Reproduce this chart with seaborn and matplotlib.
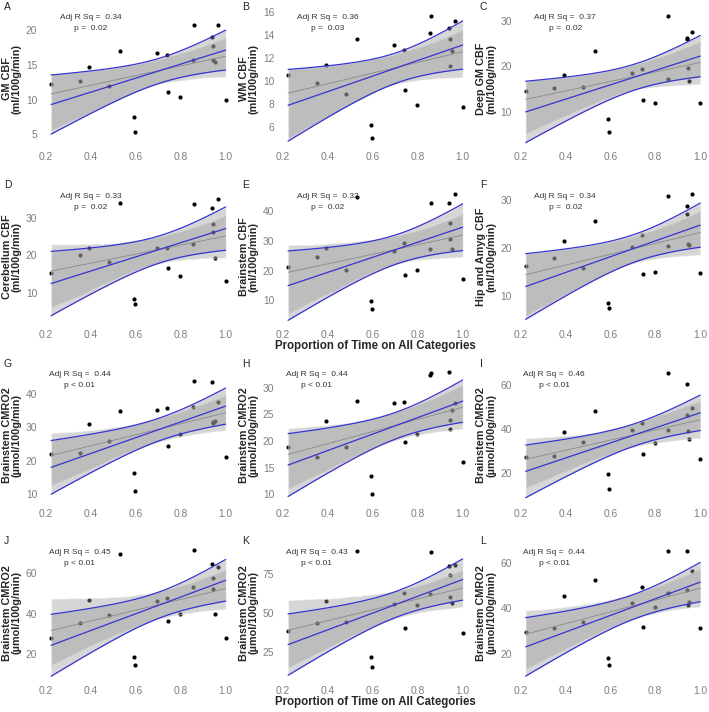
import numpy as np
import pandas as pd
import matplotlib
matplotlib.use('Agg')
import matplotlib.pyplot as plt
import seaborn as sns

# shared x: proportion of time on all categories (19 subjects)
prop_time = [0.224, 0.352, 0.393, 0.48, 0.53, 0.591, 0.596, 0.697, 0.739, 0.744,
             0.798, 0.858, 0.856, 0.941, 0.942, 0.944, 0.951, 0.964, 1.0]

gm_cbf = [12.2, 12.7, 14.7, 11.9, 17.0, 7.5, 5.3, 16.7, 16.5, 11.1, 10.3, 20.8, 15.7, 19.1, 17.8, 15.7, 15.4, 20.8, 9.9]
wm_cbf = [10.5, 9.8, 11.4, 8.9, 13.6, 6.2, 5.0, 13.1, 12.7, 9.2, 7.9, 15.6, 14.2, 14.6, 13.6, 11.3, 12.6, 15.2, 7.7]
deep_gm_cbf = [14.7, 15.3, 18.1, 15.6, 23.3, 8.5, 5.8, 18.5, 19.5, 12.7, 12.1, 31.0, 17.2, 26.3, 25.9, 19.6, 16.8, 27.5, 12.1]
cerebellum_cbf = [15.5, 20.1, 22.1, 18.4, 33.9, 8.6, 7.3, 22.1, 22.1, 16.8, 14.7, 33.6, 23.0, 32.6, 28.4, 26.3, 19.4, 34.9, 13.3]
brainstem_cbf = [21.3, 24.8, 27.8, 20.4, 44.8, 9.8, 7.2, 26.7, 29.3, 18.7, 20.4, 43.0, 27.3, 42.7, 36.0, 30.7, 27.4, 45.8, 17.3]
hip_amyg_cbf = [16.3, 17.9, 21.5, 15.8, 25.6, 8.4, 7.3, 20.1, 22.7, 14.5, 14.9, 30.9, 20.4, 28.8, 27.2, 20.9, 20.7, 31.3, 14.8]
cmro2_g = [22.1, 22.3, 31.1, 25.9, 34.8, 16.4, 10.9, 35.1, 35.8, 24.3, 28.1, 43.9, 36.0, 43.4, 31.2, 31.7, 31.9, 37.5, 21.1]
cmro2_h = [18.9, 17.0, 23.8, 18.9, 27.5, 13.5, 10.1, 27.2, 27.4, 19.9, 21.4, 32.7, 32.4, 32.9, 24.0, 22.3, 25.9, 27.2, 16.1]
cmro2_i = [27.1, 27.4, 38.7, 33.9, 48.0, 19.3, 12.5, 39.3, 42.6, 28.3, 33.5, 65.6, 39.6, 60.6, 46.2, 39.0, 35.3, 49.7, 26.2]
cmro2_j = [27.9, 35.4, 46.6, 39.5, 69.3, 18.7, 14.6, 46.1, 47.9, 36.3, 39.7, 71.1, 52.9, 64.5, 57.7, 51.9, 39.9, 62.9, 27.9]
cmro2_k = [38.6, 43.7, 57.7, 44.1, 89.9, 21.8, 15.5, 55.5, 63.0, 40.5, 55.0, 89.2, 62.0, 80.2, 74.4, 60.1, 56.3, 80.9, 37.0]
cmro2_l = [29.6, 31.4, 45.5, 33.9, 52.4, 18.3, 14.9, 42.2, 49.3, 31.6, 40.7, 65.5, 46.8, 65.3, 48.3, 41.4, 42.9, 56.5, 31.3]

panel_values = [gm_cbf, wm_cbf, deep_gm_cbf, cerebellum_cbf, brainstem_cbf, hip_amyg_cbf,
                cmro2_g, cmro2_h, cmro2_i, cmro2_j, cmro2_k, cmro2_l]
panel_letters = list('ABCDEFGHIJKL')
ylabels = ['GM CBF\n(ml/100g/min)', 'WM CBF\n(ml/100g/min)', 'Deep GM CBF\n(ml/100g/min)',
           'Cerebellum CBF\n(ml/100g/min)', 'Brainstem CBF\n(ml/100g/min)', 'Hip and Amyg CBF\n(ml/100g/min)'] \
          + ['Brainstem CMRO2\n(µmol/100g/min)'] * 6
adj_r2 = ['0.34', '0.36', '0.37', '0.33', '0.32', '0.34', '0.44', '0.44', '0.46', '0.45', '0.43', '0.44']
p_text = ['p =  0.02', 'p =  0.03', 'p =  0.02', 'p =  0.02', 'p =  0.02', 'p =  0.02'] + ['p < 0.01'] * 6

# adjusted-model fit (blue): value at x min, value at x max, CI half-width at x min
blue_left = [9.27, 7.88, 10.08, 12.6, 15.0, 11.9, 18.05, 15.5, 20.6, 24.5, 29.8, 23.0]
blue_right = [17.15, 13.12, 22.26, 27.1, 34.7, 24.8, 36.3, 27.5, 47.3, 56.4, 71.4, 51.6]
blue_halfwidth = [4.28, 3.12, 6.7, 8.5, 11.7, 6.9, 8.0, 5.9, 12.0, 15.2, 19.6, 12.9]

y_limits = [(3.05, 23.0), (4.2, 16.2), (2.3, 32.4), (1.4, 37.8), (1.4, 47.9), (3.6, 32.6),
            (7.0, 48.1), (8.1, 34.0), (5.5, 68.4), (6.5, 74.2), (5.9, 94.1), (7.5, 68.4)]
y_ticks = [[5, 10, 15, 20], [6, 8, 10, 12, 14, 16], [10, 20, 30], [10, 20, 30], [10, 20, 30, 40],
           [10, 20, 30], [10, 20, 30, 40], [10, 15, 20, 25, 30], [20, 40, 60], [20, 40, 60],
           [25, 50, 75], [20, 40, 60]]
x_ticks = [0.2, 0.4, 0.6, 0.8, 1.0]
ann_x = [0.4] * 6 + [0.35] * 6

sns.set_style('white')
plt.rcParams['font.family'] = ['Liberation Sans', 'DejaVu Sans']

W, H = 709, 712
fig = plt.figure(figsize=(W / 100, H / 100), dpi=100)
col_left = [41.4, 278.4, 516]
row_top = [9.6, 188, 366.5, 544]
ax_w, ax_h = 193, 138
letter_x = [4, 242, 480]

x_arr = np.array(prop_time)
n = len(x_arr)
xbar = x_arr.mean()
sxx = ((x_arr - xbar) ** 2).sum()
grid = np.linspace(x_arr.min(), x_arr.max(), 100)
shape = np.sqrt(1 / n + (grid - xbar) ** 2 / sxx)

band_color = '#999999'
blue = '#3535d0'

for i, vals in enumerate(panel_values):
    r, c = divmod(i, 3)
    left, top = col_left[c], row_top[r]
    ax = fig.add_axes([left / W, 1 - (top + ax_h) / H, ax_w / W, ax_h / H])
    df = pd.DataFrame({'prop': prop_time, 'val': vals})

    # unadjusted fit, grey
    sns.regplot(data=df, x='prop', y='val', ax=ax, ci=95, n_boot=2000, seed=1,
                color=band_color, truncate=True,
                scatter_kws={'color': 'black', 's': 9, 'linewidths': 0, 'alpha': 1, 'zorder': 1},
                line_kws={'color': '#8a8a8a', 'lw': 0.6, 'zorder': 3})
    for coll in ax.collections[1:]:
        coll.set_facecolor(band_color)
        coll.set_alpha(0.4)
        coll.set_zorder(2)

    # adjusted fit, blue with its CI
    fit = blue_left[i] + (blue_right[i] - blue_left[i]) * (grid - grid[0]) / (grid[-1] - grid[0])
    hw = blue_halfwidth[i] * shape / shape[0]
    ax.fill_between(grid, fit - hw, fit + hw, facecolor=band_color, alpha=0.4, lw=0, zorder=2)
    for line in (fit, fit - hw, fit + hw):
        ax.plot(grid, line, color=blue, lw=0.9, zorder=4)

    ax.set_xlim(0.181, 1.039)
    ax.set_ylim(*y_limits[i])
    ax.set_xticks(x_ticks)
    ax.set_xticklabels(['0.2', '0.4', '0.6', '0.8', '1.0'])
    ax.set_yticks(y_ticks[i])
    ax.tick_params(length=0, labelsize=7.4, labelcolor='#7f7f7f', pad=3)
    for s in ax.spines.values():
        s.set_visible(False)
    ax.set_ylabel(ylabels[i], fontsize=7.8, fontweight='bold', labelpad=3, linespacing=1.0)
    if i in (4, 10):
        ax.set_xlabel('Proportion of Time on All Categories', fontsize=8.3,
                      fontweight='bold', labelpad=0)
    else:
        ax.set_xlabel('')

    ax.text(ann_x[i], 0.94, 'Adj R Sq =  ' + adj_r2[i], transform=ax.get_xaxis_transform(),
            ha='center', va='center', fontsize=6, color='#333333')
    ax.text(ann_x[i], 0.86, p_text[i], transform=ax.get_xaxis_transform(),
            ha='center', va='center', fontsize=6, color='#333333')

    fig.text(letter_x[c] / W, 1 - (top - 2.5) / H, panel_letters[i], fontsize=7.5,
             ha='left', va='center', color='#222222')

fig.savefig('out.png', dpi=100)
